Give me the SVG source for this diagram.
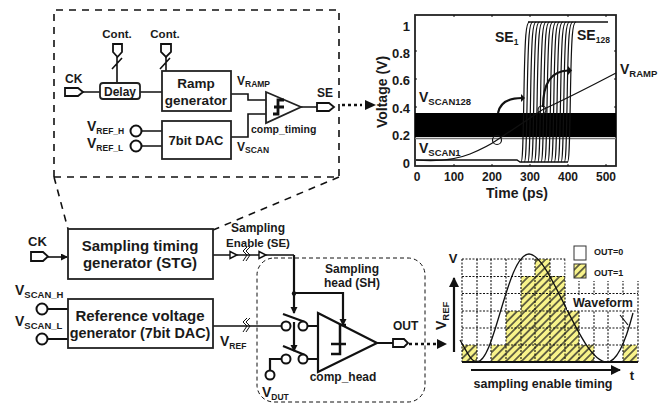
<svg xmlns="http://www.w3.org/2000/svg" width="664" height="403" viewBox="0 0 664 403">
<style>
text{font-family:"Liberation Sans",Arial,sans-serif;font-weight:bold;fill:#1a1a1a}
.box{fill:#fff;stroke:#222;stroke-width:1.8}
.w{fill:none;stroke:#111;stroke-width:1.6}
.th{fill:none;stroke:#111;stroke-width:1}
.t{fill:none;stroke:#111;stroke-width:2.2}
.c{fill:#fff;stroke:#111;stroke-width:2}
.p{fill:#fff;stroke:#111;stroke-width:1.8}
.d{fill:none;stroke:#111;stroke-width:1.6;stroke-dasharray:7 6}
.dot{fill:none;stroke:#111;stroke-width:2.6;stroke-dasharray:3 3}
.s10{font-size:10.5px}.s11{font-size:11.5px}.s12{font-size:12px}.s13{font-size:13px}.s14{font-size:14px}.s15{font-size:15px}
.sub{font-size:8.5px}.sb{font-size:9.5px}
.grid{stroke:#111;stroke-width:1.1;stroke-dasharray:2 1.5;fill:none}
</style>
<defs>
<marker id="a" markerWidth="8" markerHeight="8" refX="6" refY="3.5" orient="auto" markerUnits="userSpaceOnUse"><path d="M0 0L7 3.5L0 7z" fill="#111"/></marker>
<marker id="b" markerWidth="12" markerHeight="12" refX="9" refY="5" orient="auto" markerUnits="userSpaceOnUse"><path d="M0 0L10 5L0 10z" fill="#111"/></marker>
<pattern id="h" width="5.500" height="5.500" patternUnits="userSpaceOnUse" patternTransform="rotate(45)"><rect width="5.500" height="5.500" fill="#f8f38a"/><line x1="2.750" y1="0" x2="2.750" y2="5.500" stroke="#222" stroke-width="1.300"/></pattern>
<path id="se" d="M0 162C1.500 162 2 150 3 90C4 35 5 22 8.500 22" fill="none" stroke="#111" stroke-width="1.200"/>
</defs>

<g id="connectors">
<path class="d" d="M54 177V10H339V177H54"/>
<path class="d" d="M54 177L68 229M339 177L213 230"/>
<path class="w" d="M83 92H100M140 92H162M117 57V83M166 57V71M112 69L122 58M160 69L170 58"/>
<path class="w" d="M142 131H162M142 146H162M231 94H248V100H266M231 137H248V114H266M301 107H317"/>
<path class="dot" d="M342 105H362"/><path d="M365 100L376 105L365 110z" fill="#111"/>
<path class="w" d="M48 257H67" marker-end="url(#a)"/>
<path class="t" d="M48 309H68M48 339H68"/>
<path class="w" d="M213 255H294M213 326H281"/>
<path class="t" d="M294 255V313" marker-end="url(#a)"/>
<path class="t" d="M294 293H343V325" marker-end="url(#a)"/>
<path class="t" d="M294 322V351" marker-end="url(#a)"/>
<path class="th" d="M243 332L247 326L243 322L247 318M246 332L250 326L246 322L250 318M243 261L247 255L243 251L247 247M246 261L250 255L246 251L250 247"/>
<path class="t" d="M283 314L305 322M283 346L305 355M308 326H318M308 359H318M377 343H393M270 370V359H281"/>
<path class="dot" d="M409 344H438"/><path d="M437 339L447 344L437 349z" fill="#111"/>
<path class="t" d="M454 352V278" marker-end="url(#b)"/>
<path class="t" d="M471 370H620" marker-end="url(#b)"/>
<path d="M230 251.500L237 255L230 258.500zM259 251.500L266 255L259 258.500z" fill="#fff" stroke="#111" stroke-width="1.400"/>
</g>

<g id="delay"><rect x="100" y="83" width="40" height="16" rx="3" class="box"/><text x="120" y="96" text-anchor="middle" class="s12">Delay</text></g>
<g id="ramp"><rect x="162" y="71" width="69" height="40" class="box"/><text x="196" y="88" text-anchor="middle" font-size="13.500">Ramp</text><text x="196" y="105" text-anchor="middle" font-size="13.500">generator</text></g>
<g id="dac"><rect x="162" y="121" width="69" height="38" class="box"/><text x="196" y="145" text-anchor="middle" class="s13">7bit DAC</text></g>
<g id="ports-top">
<path class="p" d="M113 44H122V52L117.500 57L113 52zM161 44H171V52L166 57L161 52zM65 88H78L83 92L78 96H65zM317 103H329L334 107L329 111H317z"/>
<circle class="c" cx="136" cy="131" r="5.500"/><circle class="c" cx="136" cy="146" r="5.500"/>
<text x="117" y="38" text-anchor="middle" class="s11">Cont.</text><text x="165" y="38" text-anchor="middle" class="s11">Cont.</text>
<text x="65" y="83" class="s12">CK</text><text x="317" y="97" class="s12">SE</text>
<text x="87" y="131" class="s14">V<tspan class="sub" dy="3">REF_H</tspan></text>
<text x="87" y="148" class="s14">V<tspan class="sub" dy="3">REF_L</tspan></text>
<text x="237" y="85" class="s12">V<tspan class="sub" dy="2">RAMP</tspan></text>
<text x="237" y="151" class="s12">V<tspan class="sub" dy="2">SCAN</tspan></text>
</g>
<g id="comp-timing"><path d="M266 92L301 107L266 123z" class="box"/><path d="M273 114H278V100H284M274 107H284" fill="none" stroke="#111" stroke-width="2.800"/><text x="251" y="133" class="s10">comp_timing</text></g>

<g id="plot">
<rect x="415" y="15" width="201" height="151" fill="#fff" stroke="#222" stroke-width="1.800"/>
<path stroke="#111" fill="none" d="M454 166v-2M492 166v-2M530 166v-2M568 166v-2M606 166v-2M454 15v2M492 15v2M530 15v2M568 15v2M606 15v2M415 51h2M415 79h2M415 107h2M415 135h2M616 51h-2M616 79h-2M616 107h-2M616 135h-2"/>
<rect x="415" y="113" width="201" height="24" fill="#000"/>
<line x1="415" y1="138.500" x2="616" y2="138.500" stroke="#777" stroke-width="1.500"/>
<path d="M416 160H517L520 162H568M528 22H608" fill="none" stroke="#111" stroke-width="1.400"/>
<use href="#se" x="521"/><use href="#se" x="524.300"/><use href="#se" x="527.700"/><use href="#se" x="531"/><use href="#se" x="534.300"/><use href="#se" x="537.700"/><use href="#se" x="541"/><use href="#se" x="544.300"/><use href="#se" x="547.700"/><use href="#se" x="551"/><use href="#se" x="554.300"/><use href="#se" x="557.700"/><use href="#se" x="561"/><use href="#se" x="564.300"/><use href="#se" x="567.500"/>
<path d="M416 160C440 162 455 160 470 154C482 149 490 145 497 140L542 110C570 97 595 84 616 73" fill="none" stroke="#111" stroke-width="1.200"/>
<circle cx="497" cy="140" r="4.500" fill="none" stroke="#111" stroke-width="1.200"/>
<circle cx="542" cy="110" r="4" fill="none" stroke="#111" stroke-width="1.200"/>
<path class="t" d="M498 113C500 103 508 98 522 98"/><path d="M521 94L525 98L521 102z" fill="#111"/>
<path class="t" d="M543 107C543 82 552 71 568 70.500"/><path d="M568 66L572 70.500L568 75z" fill="#111"/>
<text x="419" y="102" class="s14">V<tspan class="sb" dy="3">SCAN128</tspan></text>
<text x="419" y="153" class="s14">V<tspan class="sb" dy="3">SCAN1</tspan></text>
<text x="495" y="42" class="s14">SE<tspan class="sub" dy="3">1</tspan></text>
<text x="577" y="40" class="s14">SE<tspan class="sub" dy="3">128</tspan></text>
<text x="620" y="74" class="s14">V<tspan class="sb" dy="3">RAMP</tspan></text>
<g class="s13" text-anchor="end"><text x="410" y="31">1</text><text x="410" y="58">0.8</text><text x="410" y="85">0.6</text><text x="410" y="113">0.4</text><text x="410" y="140">0.2</text><text x="410" y="168">0</text></g>
<g class="s12" text-anchor="middle"><text x="417" y="181">0</text><text x="454" y="181">100</text><text x="492" y="181">200</text><text x="530" y="181">300</text><text x="568" y="181">400</text><text x="606" y="181">500</text></g>
<text x="517" y="198" text-anchor="middle" class="s14">Time (ps)</text>
<text transform="translate(387 92) rotate(-90)" text-anchor="middle" class="s14">Voltage (V)</text>
</g>

<g id="stg"><rect x="68" y="229" width="145" height="50" class="box"/><text x="140" y="251" text-anchor="middle" class="s15">Sampling timing</text><text x="140" y="268" text-anchor="middle" class="s15">generator (STG)</text></g>
<g id="refgen"><rect x="68" y="299" width="145" height="49" class="box"/><text x="140" y="321" text-anchor="middle" class="s15">Reference voltage</text><text x="140" y="338" text-anchor="middle" font-size="14.400">generator (7bit DAC)</text></g>
<g id="ports-bottom">
<path class="p" d="M31 252H43L48 256.500L43 261H31z"/>
<circle class="c" cx="42" cy="309" r="5.500"/><circle class="c" cx="42" cy="339" r="5.500"/>
<text x="28" y="246" class="s13">CK</text>
<text x="15" y="295" class="s14">V<tspan class="sb" dy="3">SCAN_H</tspan></text>
<text x="15" y="326" class="s14">V<tspan class="sb" dy="3">SCAN_L</tspan></text>
<text x="220" y="346" class="s14">V<tspan class="sub" dy="3">REF</tspan></text>
<text x="258" y="232" text-anchor="middle" class="s12">Sampling</text><text x="258" y="247" text-anchor="middle" class="s11">Enable (SE)</text>
</g>

<g id="sampling-head">
<rect x="257" y="258" width="168" height="144" rx="17" fill="none" stroke="#111" stroke-width="1" stroke-dasharray="4 3"/>
<path d="M318 313L377 343L318 372z" fill="#fff" stroke="#111" stroke-width="2.200"/>
<path d="M331 354H340V325H346M331 344H346" fill="none" stroke="#111" stroke-width="2.500"/>
<circle class="c" cx="286" cy="326" r="4.500"/><circle class="c" cx="303" cy="326" r="4.500"/>
<circle class="c" cx="286" cy="359" r="4.500"/><circle class="c" cx="303" cy="359" r="4.500"/>
<circle class="c" cx="270" cy="375" r="4.500"/>
<circle cx="294" cy="293.500" r="2.200" fill="#111"/>
<path class="p" d="M393 339H404L408 343L404 347H393z"/>
<text x="352" y="273" text-anchor="middle" class="s12">Sampling</text><text x="352" y="287" text-anchor="middle" class="s12">head (SH)</text>
<text x="343" y="381" text-anchor="middle" class="s12">comp_head</text>
<text x="262" y="397" class="s14">V<tspan class="sub" dy="3">DUT</tspan></text>
<text x="393" y="330" class="s12">OUT</text>
</g>

<g id="waveform">
<path fill="url(#h)" d="M462 345H477V362H462zM491 345H506V362H491zM506 311H521V362H506zM521 276H535V362H521zM535 259H550V362H535zM550 276H565V362H550zM565 311H579V362H565zM579 345H594V362H579zM623 345H637V362H623z"/>
<path class="grid" d="M462 259H638M462 276.500H638M462 293.500H638M462 311H638M462 328H638M462 345H638M477 259V362M491 259V362M506 259V362M521 259V362M535 259V362M550 259V362M565 259V362M579 259V362M594 259V362M608 259V362M623 259V362M638 259V362M462 259V362"/>
<path d="M460 340C466 350 471 362 477 362C495 362 507 254 529 254C551 254 580 362 607 362C617 362 626 340 633 313" fill="none" stroke="#111" stroke-width="1.300"/>
<line x1="462" y1="362" x2="638" y2="362" stroke="#111" stroke-width="2"/>
<rect x="567" y="295" width="67" height="15" fill="#fff"/>
<path d="M620 315L628 325" stroke="#111" stroke-width="1.200" fill="none"/>
<rect x="565.500" y="243" width="75" height="38" fill="#fff"/>
<rect x="574" y="246" width="12" height="14" fill="#fff" stroke="#333"/>
<rect x="574" y="264" width="12" height="14" fill="url(#h)" stroke="#333"/>
<text x="594" y="255" font-size="9">OUT=0</text><text x="594" y="276" font-size="9">OUT=1</text>
<text x="573" y="307" font-size="12.500">Waveform</text>
<text x="453" y="263" text-anchor="middle" class="s13">V</text>
<text transform="translate(446 330) rotate(-90)" class="s14">V<tspan class="sb" dy="3">REF</tspan></text>
<text x="632" y="380" text-anchor="middle" class="s13">t</text>
<text x="543" y="388" text-anchor="middle" font-size="12.500">sampling enable timing</text>
</g>
</svg>
